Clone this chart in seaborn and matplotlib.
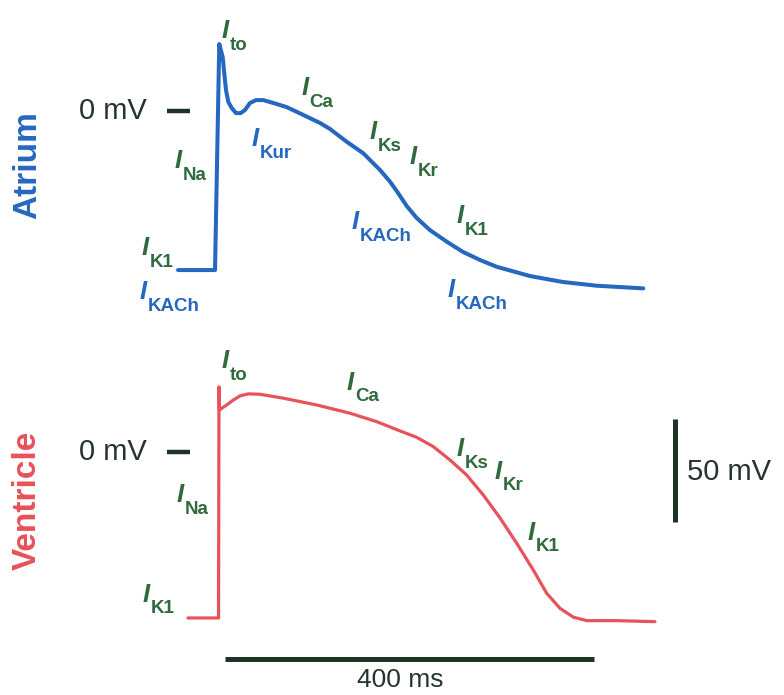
import numpy as np
import pandas as pd
import seaborn as sns
import matplotlib
matplotlib.use("Agg")
import matplotlib.pyplot as plt

# Atrial action potential (time in ms, membrane potential in mV)
atrium_t = [-44.4, -4.3, 0.3, 4.0, 5.7, 7.6, 10.1, 13.8, 18.4, 23.5, 28.2, 33.6,
            40.1, 48.0, 58.9, 73.4, 91.4, 109.5, 120.3, 138.4, 156.4, 174.5,
            185.4, 192.6, 203.5, 214.3, 228.7, 246.8, 264.5, 282.9, 301.0,
            337.1, 372.9, 409.4, 460.0]
atrium_v = [-77.2, -77.2, 32.5, 26.2, 18.4, 10.2, 4.4, 1.5, -1.0, -1.0, 0.5, 3.9,
            5.3, 5.3, 3.9, 1.9, -1.9, -5.8, -8.7, -14.9, -20.5, -28.6,
            -34.3, -38.8, -46.1, -51.9, -57.8, -63.4, -68.4, -72.3, -75.6,
            -80.1, -83.0, -84.8, -86.1]

# Ventricular action potential
ventricle_t = [-33.6, -0.5, 0, 0.5, 8.3, 15.5, 22.8, 31.8, 44.4, 69.7, 105.9,
               142.0, 171.0, 196.2, 214.3, 232.3, 250.4, 268.5, 286.5, 304.9,
               322.7, 340.7, 355.2, 369.6, 384.1, 398.6, 431.1, 472.6]
ventricle_v = [-80.6, -80.6, 31.6, 20.4, 22.8, 25.2, 27.2, 28.2, 28.0, 26.1, 22.8,
               18.8, 14.7, 10.2, 7.1, 2.6, -3.9, -11.2, -20.9, -32.2,
               -44.3, -57.3, -68.6, -75.9, -80.2, -81.9, -81.9, -82.4]

# Current labels: (subscript, colour key, t, mV)
atrium_labels = [
    ("to", "g", 3.3, 36.4), ("Na", "g", -47.7, -26.7), ("K1", "g", -83.5, -68.9),
    ("KACh", "b", -85.6, -90.3), ("Kur", "b", 35.8, -16.0), ("Ca", "g", 89.5, 8.7),
    ("Ks", "g", 163.7, -12.6), ("Kr", "g", 207, -24.8), ("KACh", "b", 144.2, -56.3),
    ("K1", "g", 258, -53.4), ("KACh", "b", 248.2, -89.3),
]
ventricle_labels = [
    ("to", "g", 3.3, 41.7), ("Ca", "g", 138.8, 31.1), ("Na", "g", -45.5, -23.3),
    ("K1", "g", -82.4, -71.8), ("Ks", "g", 258, -1), ("Kr", "g", 299, -12.1),
    ("K1", "g", 335, -41.7),
]

BLUE = "#2667c0"
RED = "#e8525a"
GREEN = "#2f6b3d"
DARK = "#1d3326"
TEXT = "#25352b"

sns.set_theme(style="white")
plt.rcParams["font.family"] = ["Liberation Sans", "DejaVu Sans"]

fig = plt.figure(figsize=(7.84, 6.95), dpi=100)
fig.patch.set_facecolor("white")

xlim = (-237.4, 612.5)
ax_a = fig.add_axes([0, 1 - 330 / 695, 1, 330 / 695])
ax_v = fig.add_axes([0, 0, 1, 1 - 330 / 695])
ax_a.set_ylim(-106.3, 53.9)
ax_v.set_ylim(-118.0, 59.2)

df_a = pd.DataFrame({"t": atrium_t, "v": atrium_v})
df_v = pd.DataFrame({"t": ventricle_t, "v": ventricle_v})
sns.lineplot(data=df_a, x="t", y="v", sort=False, estimator=None, color=BLUE,
             lw=2.9, ax=ax_a, solid_joinstyle="round")
sns.lineplot(data=df_v, x="t", y="v", sort=False, estimator=None, color=RED,
             lw=2.3, ax=ax_v, solid_joinstyle="round")


def current_label(ax, t, v, sub, color):
    """Italic bold I with a bold subscript, anchored at left/centre."""
    ax.annotate("I", (t, v), xytext=(0, -1.5), textcoords="offset points",
                fontsize=18.5, fontstyle="italic", fontweight="bold", color=color,
                ha="left", va="baseline")
    ax.annotate(sub, (t, v), xytext=(5.8, -9.8), textcoords="offset points",
                fontsize=13.5, fontweight="bold", color=color,
                ha="left", va="baseline")


colors = {"g": GREEN, "b": BLUE}
for ax, labels in [(ax_a, atrium_labels), (ax_v, ventricle_labels)]:
    for sub, c, t, v in labels:
        current_label(ax, t, v, sub, colors[c])
    # 0 mV marker
    ax.text(-78, 0, "0 mV", fontsize=21, color=TEXT, ha="right", va="center")
    ax.plot([-56.4, -31.4], [0, 0], color=DARK, lw=3.2, solid_capstyle="butt")

ax_a.text(-207, -26.2, "Atrium", rotation=90, color=BLUE, fontsize=24,
          fontweight="bold", ha="center", va="center")
ax_v.text(-208, -23.3, "Ventricle", rotation=90, color=RED, fontsize=24,
          fontweight="bold", ha="center", va="center")

# scale bars
ax_v.plot([6.5, 406.5], [-100.5, -100.5], color=DARK, lw=3.6, solid_capstyle="butt")
ax_v.text(196.2, -114.3, "400 ms", fontsize=19, color=TEXT, ha="center", va="baseline")
ax_v.plot([494.3, 494.3], [16, -34], color=DARK, lw=3.6, solid_capstyle="butt")
ax_v.text(507, -9.7, "50 mV", fontsize=21, color=TEXT, ha="left", va="center")

for ax in (ax_a, ax_v):
    ax.set_xlim(*xlim)
    ax.set_axis_off()

fig.savefig("out.png", dpi=100, facecolor="white")
